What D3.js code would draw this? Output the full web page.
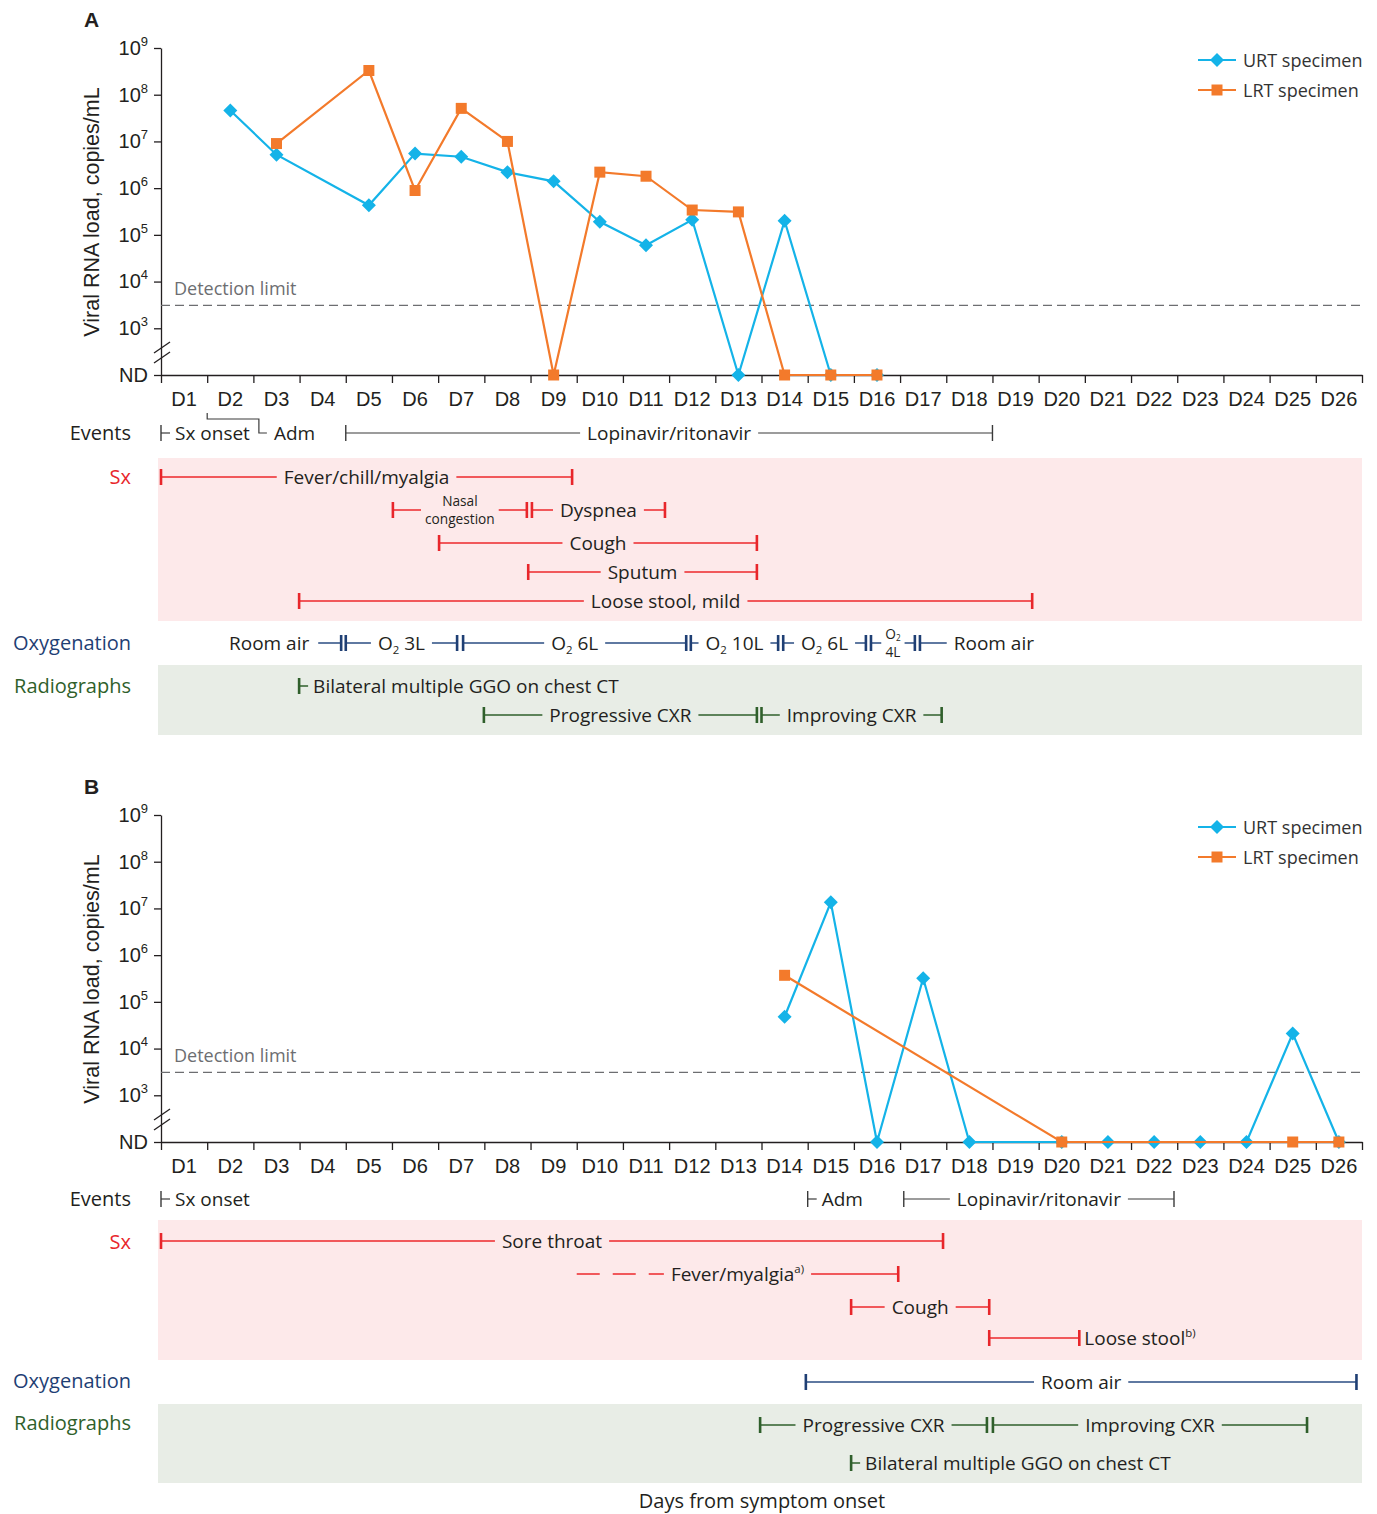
<!DOCTYPE html>
<html>
<head>
<meta charset="utf-8">
<script src="https://cdn.jsdelivr.net/npm/d3@7"></script>
<style>
  body { margin: 0; background: #fff; }
  svg text { font-family: "Open Sans", sans-serif; }
  svg .axis text, svg text.axis-title, svg text.panel-letter { font-family: "Liberation Sans", Arial, sans-serif; }
</style>
</head>
<body>
<svg id="chart" width="1377" height="1514"></svg>
<script>
// --- DATA ---

const dayLabels = d3.range(1, 27).map(d => "D" + d);
const yTickValues = [1e2, 1e3, 1e4, 1e5, 1e6, 1e7, 1e8, 1e9];   // 1e2 is shown as "ND"
const detectionLimit = 3.1e3;
const seriesNames = ["URT specimen", "LRT specimen"];

// viral load per day, [day, copies/mL], 0 = not detected
const urtA = [[2, 4.6e7], [3, 5.2e6], [5, 4.3e5], [6, 5.5e6], [7, 4.7e6], [8, 2.2e6], [9, 1.4e6],
  [10, 1.9e5], [11, 6.0e4], [12, 2.1e5], [13, 0], [14, 2.0e5], [15, 0], [16, 0]];
const lrtA = [[3, 9.0e6], [5, 3.3e8], [6, 8.9e5], [7, 5.1e7], [8, 1.0e7], [9, 0], [10, 2.2e6],
  [11, 1.8e6], [12, 3.4e5], [13, 3.1e5], [14, 0], [15, 0], [16, 0]];
const urtB = [[14, 4.8e4], [15, 1.35e7], [16, 0], [17, 3.2e5], [18, 0], [20, 0], [21, 0], [22, 0],
  [23, 0], [24, 0], [25, 2.1e4], [26, 0]];
const lrtB = [[14, 3.7e5], [20, 0], [25, 0], [26, 0]];

// clinical course, in day units (1 = start of D1); "at" = where a label sits when not centred
const eventsA = [
  { start: 1, label: "Sx onset" },
  { start: 2, label: "Adm" },
  { start: 5, end: 19, label: "Lopinavir/ritonavir" }
];
const sxA = [
  { lane: 0, start: 1, end: 9.9, label: "Fever/chill/myalgia" },
  { lane: 1, start: 6.02, end: 8.92, label: ["Nasal", "congestion"] },
  { lane: 1, start: 9.03, end: 11.91, label: "Dyspnea" },
  { lane: 2, start: 7.02, end: 13.9, label: "Cough" },
  { lane: 3, start: 8.95, end: 13.9, label: "Sputum" },
  { lane: 4, start: 3.99, end: 19.86, label: "Loose stool, mild" }
];
const oxyA = [
  { end: 4.9, at: 3.34, label: "Room air" },
  { start: 5.0, end: 7.41, label: "O₂ 3L" },
  { start: 7.54, end: 12.37, label: "O₂ 6L" },
  { start: 12.47, end: 14.36, label: "O₂ 10L" },
  { start: 14.47, end: 16.26, label: "O₂ 6L" },
  { start: 16.37, end: 17.32, label: ["O₂", "4L"] },
  { start: 17.43, at: 19.03, label: "Room air" }
];
const radA = [
  { lane: 0, start: 3.99, label: "Bilateral multiple GGO on chest CT" },
  { lane: 1, start: 7.99, end: 13.9, label: "Progressive CXR" },
  { lane: 1, start: 14.0, end: 17.9, label: "Improving CXR" }
];

const eventsB = [
  { start: 1, label: "Sx onset" },
  { start: 15, label: "Adm" },
  { start: 17.08, end: 22.93, label: "Lopinavir/ritonavir" }
];
const sxB = [
  { lane: 0, start: 1, end: 17.93, label: "Sore throat" },
  { lane: 1, start: 10, end: 16.96, uncertainStart: true, label: "Fever/myalgia^a)" },
  { lane: 2, start: 15.94, end: 18.93, label: "Cough" },
  { lane: 3, start: 18.93, end: 20.88, labelAfter: true, label: "Loose stool^b)" }
];
const oxyB = [
  { start: 14.96, end: 26.88, label: "Room air" }
];
const radB = [
  { lane: 0, start: 13.97, end: 18.88, label: "Progressive CXR" },
  { lane: 0, start: 19.01, end: 25.81, label: "Improving CXR" },
  { lane: 1, start: 15.94, label: "Bilateral multiple GGO on chest CT" }
];

// --- LAYOUT ---

const svg = d3.select("#chart");
const X0 = 161, X1 = 1362;
const x = d3.scaleLinear().domain([1, 27]).range([X0, X1]);
const xBand = d3.scaleBand().domain(dayLabels).range([X0, X1]);
const y = d3.scaleLog().domain([1e2, 1e9]).range([375, 48]);

const layout = {
  A: { top: 0, events: [433], sx: [477, 510, 543, 572, 601], oxy: [643], rad: [686, 715],
       sxBg: [458, 621], radBg: [665, 735], rowLabels: [433, 477, 643, 686] },
  B: { top: 767, events: [1199], sx: [1241, 1274, 1307, 1338], oxy: [1382], rad: [1425, 1463],
       sxBg: [1220, 1360], radBg: [1404, 1483], rowLabels: [1199, 1242, 1381, 1423] }
};

const styles = {
  events: { line: "#3a3a3a", cap: "#3a3a3a", lw: 1.2, cw: 1.4, text: "#231f20", label: "Events" },
  sx:     { line: "#f1585b", cap: "#e8262b", lw: 2, cw: 2.6, text: "#231f20", label: "Sx", labelColor: "#e8262b" },
  oxy:    { line: "#2a4c82", cap: "#1f3f74", lw: 1.5, cw: 2.6, text: "#231f20", label: "Oxygenation", labelColor: "#1f3f74" },
  rad:    { line: "#2f5f2b", cap: "#2f5f2b", lw: 1.5, cw: 2.6, text: "#231f20", label: "Radiographs", labelColor: "#2f5f2b" }
};

const URT_COLOR = "#14b3e8", LRT_COLOR = "#f37a2b";
const FONT = 19;
const AXIS_FONT = '"Liberation Sans", Arial, sans-serif';

// --- HELPERS ---

// writes a string into a <text>, turning "₂" into a subscript and "^xx" into a superscript
function fillText(text, str, size) {
  let base = 0;
  str.split(/(₂|\^\S+)/).filter(s => s).forEach(p => {
    const ts = text.append("tspan");
    let off = 0;
    if (p === "₂") { ts.text("2").style("font-size", (size * 0.6) + "px"); off = size * 0.2; }
    else if (p[0] === "^") { ts.text(p.slice(1)).style("font-size", (size * 0.6) + "px"); off = -size * 0.4; }
    else ts.text(p);
    ts.attr("dy", off - base);
    base = off;
  });
}

// single or stacked label, centred on (0,0) of its own group
function makeLabel(g, label, size, color) {
  const lines = Array.isArray(label) ? label : [label];
  const fs = lines.length > 1 ? size * 0.72 : size;
  const lg = g.append("g");
  let w = 0;
  lines.forEach((s, i) => {
    const t = lg.append("text").attr("text-anchor", "middle").attr("fill", color)
      .style("font-size", fs + "px")
      .attr("y", (i - (lines.length - 1) / 2) * fs * 1.38 + fs * 0.36);
    fillText(t, s, fs);
    w = Math.max(w, t.node().getComputedTextLength());
  });
  return { g: lg, w };
}

function cap(g, xp, yp, st) {
  g.append("line").attr("x1", xp).attr("x2", xp).attr("y1", yp - 8).attr("y2", yp + 8)
    .attr("stroke", st.cap).attr("stroke-width", st.cw);
}

function piece(g, xa, xb, yp, st, dashed) {
  if (xb <= xa) return;
  g.append("line").attr("x1", xa).attr("x2", xb).attr("y1", yp).attr("y2", yp)
    .attr("stroke", st.line).attr("stroke-width", st.lw)
    .attr("stroke-dasharray", dashed ? "23,13" : null);
}

// draws one group of bars (events, symptoms, oxygenation, radiographs)
function drawGroup(g, items, lanes, st, axisY) {
  const lastEnd = {};
  items.forEach(it => {
    const lane = it.lane || 0;
    const yp = lanes[lane];
    const lab = makeLabel(g, it.label, FONT, st.text);
    const w = lab.w, gap = 7;
    const xs = it.start != null ? x(it.start) : null;
    const xe = it.end != null ? x(it.end) : null;
    let cx;
    if (xs != null && xe != null) {
      if (it.labelAfter) {
        cx = xe + 5 + w / 2;
        piece(g, xs, xe, yp, st);
      } else {
        cx = it.at != null ? x(it.at) : (xs + xe) / 2;
        const gg = Array.isArray(it.label) ? 4 : gap;
        piece(g, xs, cx - w / 2 - gg, yp, st, it.uncertainStart);
        piece(g, cx + w / 2 + gg, xe, yp, st);
      }
      if (!it.uncertainStart) cap(g, xs, yp, st);
      cap(g, xe, yp, st);
    } else if (xs != null) {
      if (it.at != null) {
        cx = x(it.at);
        piece(g, xs, cx - w / 2 - gap, yp, st);
        cap(g, xs, yp, st);
      } else if (lastEnd[lane] != null && xs < lastEnd[lane] + 4) {
        // marker would sit on the previous label: route it with an elbow
        const ex = lastEnd[lane] + 9;
        g.append("path")
          .attr("d", `M${xs},${axisY + 38}V${axisY + 44}H${ex}V${yp}H${ex + 8}`)
          .attr("fill", "none").attr("stroke", st.line).attr("stroke-width", st.lw);
        cx = ex + 15 + w / 2;
      } else {
        cap(g, xs, yp, st);
        piece(g, xs, xs + 9, yp, st);
        cx = xs + 14 + w / 2;
      }
    } else {
      cx = x(it.at);
      piece(g, cx + w / 2 + 9, xe, yp, st);
      cap(g, xe, yp, st);
    }
    lab.g.attr("transform", `translate(${cx},${yp})`).raise();
    lastEnd[lane] = cx + w / 2;
  });
}

// --- PANELS ---

function drawPanel(key, letter, urt, lrt, groups) {
  const L = layout[key];
  const g = svg.append("g").attr("transform", `translate(0,${L.top})`);

  g.append("text").attr("class", "panel-letter").attr("x", 84).attr("y", 27)
    .style("font-family", AXIS_FONT)
    .style("font-size", "21px").style("font-weight", "bold").attr("fill", "#231f20").text(letter);

  // y axis
  const yAxis = g.append("g").attr("class", "axis").attr("transform", `translate(${X0},0)`)
    .call(d3.axisLeft(y).tickValues(yTickValues).tickSize(7).tickSizeOuter(0).tickPadding(6).tickFormat(""));
  yAxis.selectAll(".tick text").style("font-size", "20px").style("font-family", AXIS_FONT)
    .attr("fill", "#231f20").each(function (d) {
      const t = d3.select(this);
      if (d === 1e2) { t.text("ND"); return; }
      t.text("10");
      t.append("tspan").attr("dy", -9).style("font-size", "13px").text(Math.round(Math.log10(d)));
    });
  yAxis.selectAll("path, line").attr("stroke", "#231f20").attr("stroke-width", 1.3);

  // axis break marks
  [0, 10].forEach(o => {
    g.append("line").attr("x1", X0 - 7).attr("y1", 353 + o).attr("x2", X0 + 9).attr("y2", 342 + o)
      .attr("stroke", "#231f20").attr("stroke-width", 1.3);
  });

  g.append("text").attr("class", "axis-title")
    .attr("transform", "translate(99,212) rotate(-90)").attr("text-anchor", "middle")
    .style("font-family", AXIS_FONT)
    .style("font-size", "21.5px").attr("fill", "#231f20").text("Viral RNA load, copies/mL");

  // x axis: ticks on day boundaries, labels on day bands
  const xAxis = g.append("g").attr("class", "axis").attr("transform", `translate(0,${y(1e2)})`)
    .call(d3.axisBottom(x).tickValues(d3.range(1, 28)).tickSize(8).tickSizeOuter(0).tickFormat(""));
  xAxis.selectAll("path, line").attr("stroke", "#231f20").attr("stroke-width", 1.3);
  const xLab = g.append("g").attr("class", "axis").attr("transform", `translate(0,${y(1e2)})`)
    .call(d3.axisBottom(xBand).tickSize(0).tickPadding(17));
  xLab.select(".domain").remove();
  xLab.selectAll("text").style("font-size", "20px").style("font-family", AXIS_FONT).attr("fill", "#231f20");

  // detection limit
  const yd = y(detectionLimit);
  g.append("line").attr("x1", X0).attr("x2", X1).attr("y1", yd).attr("y2", yd)
    .attr("stroke", "#6d6e71").attr("stroke-width", 1.3).attr("stroke-dasharray", "9,5");
  g.append("text").attr("x", 174).attr("y", yd - 10).style("font-size", "18px")
    .attr("fill", "#6d6e71").text("Detection limit");

  // series
  const line = d3.line().x(d => x(d[0] + 0.5)).y(d => y(Math.max(d[1], 1e2)));
  const diamond = d3.symbol().type(d3.symbolSquare).size(98);
  const square = d3.symbol().type(d3.symbolSquare).size(121);
  [[urt, URT_COLOR, diamond, 45], [lrt, LRT_COLOR, square, 0]].forEach(([data, col, sym, rot]) => {
    g.append("path").datum(data).attr("d", line).attr("fill", "none")
      .attr("stroke", col).attr("stroke-width", 2.2);
    g.selectAll(null).data(data).enter().append("path")
      .attr("transform", d => `translate(${x(d[0] + 0.5)},${y(Math.max(d[1], 1e2))}) rotate(${rot})`)
      .attr("d", sym).attr("fill", col);
  });

  // legend
  [[URT_COLOR, diamond, 45], [LRT_COLOR, square, 0]].forEach(([col, sym, rot], i) => {
    const ly = 60 + i * 30;
    g.append("line").attr("x1", 1198).attr("x2", 1236).attr("y1", ly).attr("y2", ly)
      .attr("stroke", col).attr("stroke-width", 2.2);
    g.append("path").attr("transform", `translate(1217,${ly}) rotate(${rot})`).attr("d", sym).attr("fill", col);
    g.append("text").attr("x", 1243).attr("y", ly + 6.5).style("font-size", "18px")
      .attr("fill", "#333").text(seriesNames[i]);
  });

  // clinical course
  const tg = svg.append("g");
  tg.append("rect").attr("x", 158).attr("width", X1 - 158).attr("y", L.sxBg[0])
    .attr("height", L.sxBg[1] - L.sxBg[0]).attr("fill", "#fde9ea");
  tg.append("rect").attr("x", 158).attr("width", X1 - 158).attr("y", L.radBg[0])
    .attr("height", L.radBg[1] - L.radBg[0]).attr("fill", "#e8ede6");

  ["events", "sx", "oxy", "rad"].forEach((k, i) => {
    const st = styles[k];
    tg.append("text").attr("x", 131).attr("y", L.rowLabels[i] + 7).attr("text-anchor", "end")
      .style("font-size", "20px").attr("fill", st.labelColor || "#231f20").text(st.label);
    drawGroup(tg, groups[k], L[k], st, L.top + y(1e2));
  });
}

drawPanel("A", "A", urtA, lrtA, { events: eventsA, sx: sxA, oxy: oxyA, rad: radA });
drawPanel("B", "B", urtB, lrtB, { events: eventsB, sx: sxB, oxy: oxyB, rad: radB });

svg.append("text").attr("x", 762).attr("y", 1508).attr("text-anchor", "middle")
  .style("font-size", "20px").attr("fill", "#231f20").text("Days from symptom onset");
</script>
</body>
</html>
